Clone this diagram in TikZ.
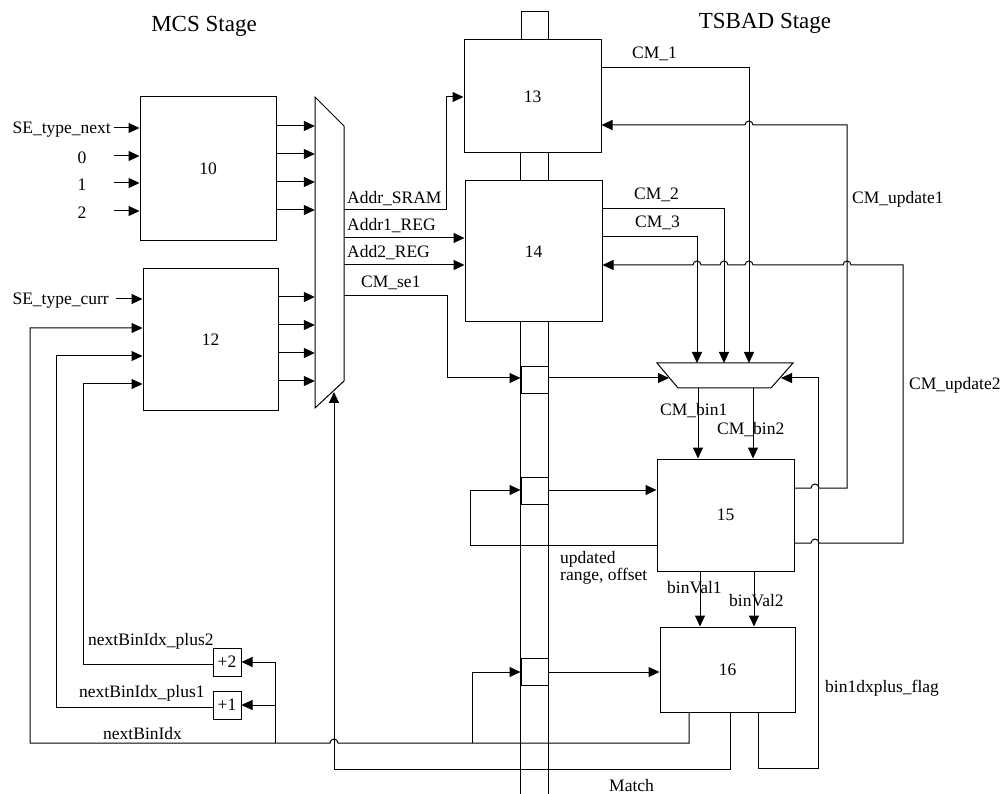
\documentclass[tikz,border=0pt]{standalone}
\usepackage{fontspec}
\setmainfont{Liberation Serif}
\usetikzlibrary{arrows.meta}
\begin{document}
\begin{tikzpicture}[x=1pt,y=-1pt,
  every node/.style={font=\fontsize{17.5}{19}\selectfont, inner sep=0pt},
  blk/.style={draw, line width=1pt},
  wire/.style={line width=1pt},
  arr/.style={wire, -{Triangle[length=11pt,width=10pt]}},
  lbl/.style={anchor=base west},
  ttl/.style={font=\fontsize{23}{26}\selectfont}
]
\useasboundingbox (0,0) rectangle (1002,794);

% titles
\node[ttl] (tmcs) at (204,26) {MCS Stage};
\node[ttl] (ttsb) at (765,23) {TSBAD Stage};

% blocks
\node[blk, minimum width=136pt, minimum height=144pt] (b10) at (208,169) {10};
\node[blk, minimum width=135pt, minimum height=142pt] (b12) at (210.5,340) {12};
\node[blk, minimum width=137pt, minimum height=113pt] (b13) at (532.5,96.5) {13};
\node[blk, minimum width=137pt, minimum height=141pt] (b14) at (533.5,251.5) {14};
\node[blk, minimum width=137pt, minimum height=112pt] (b15) at (725.5,515) {15};
\node[blk, minimum width=135pt, minimum height=85pt] (b16) at (727.5,669.5) {16};
\node[blk, minimum width=28pt, minimum height=28pt] (p2) at (227,662) {+2};
\node[blk, minimum width=28pt, minimum height=28pt] (p1) at (227,705) {+1};

% pipeline bar and registers
\node[blk, minimum width=27pt, minimum height=28pt] (rt) at (534.5,26) {};
\draw[wire] (b13.south -| rt.west) -- (b14.north -| rt.west);
\draw[wire] (b13.south -| rt.east) -- (b14.north -| rt.east);
\draw[wire] (b14.south -| rt.west) -- (rt.west |- 0,794);
\draw[wire] (b14.south -| rt.east) -- (rt.east |- 0,794);
\node[blk, minimum width=27pt, minimum height=27pt] (r1) at (534.5,380.5) {};
\node[blk, minimum width=27pt, minimum height=27pt] (r2) at (534.5,490.5) {};
\node[blk, minimum width=27pt, minimum height=27pt] (r3) at (534.5,672) {};

% multiplexers
\node[minimum width=29pt, minimum height=311pt] (muxA) at (329.5,252.5) {};
\draw[blk] (315,97) -- (344,126) -- (344,381) -- (315,408) -- cycle;
\node[minimum width=136pt, minimum height=25pt] (muxB) at (725,375.5) {};
\draw[blk] (657,363) -- (793,363) -- (771,388) -- (678,388) -- cycle;

% inputs of 10
\node[anchor=east] (lSEn) at (111,130) {SE\_type\_next};
\coordinate (i0) at (114,128);
\draw[arr] (i0) -- (b10.west |- i0);
\node (l0) at (82,158) {0};
\coordinate (i1) at (114,156);
\draw[arr] (i1) -- (b10.west |- i1);
\node (l1) at (82,185) {1};
\coordinate (i2) at (114,183);
\draw[arr] (i2) -- (b10.west |- i2);
\node (l2) at (82,213) {2};
\coordinate (i3) at (114,211);
\draw[arr] (i3) -- (b10.west |- i3);
\foreach \y in {126,154,182,210} \draw[arr] (b10.east |- 0,\y) -- (muxA.west |- 0,\y);

% inputs of 12
\node[anchor=east] (lSEc) at (109,301) {SE\_type\_curr};
\coordinate (i4) at (116,299);
\draw[arr] (i4) -- (b12.west |- i4);
\foreach \y in {297,325,353,381} \draw[arr] (b12.east |- 0,\y) -- (muxA.west |- 0,\y);

% mux outputs
\draw[arr] (muxA.east |- 0,210) -- (446,210) -- (446,97) -- (b13.west |- 0,97);
\node[lbl] at (347,204) {Addr\_SRAM};
\draw[arr] (muxA.east |- 0,238) -- (b14.west |- 0,238);
\node[lbl] at (347,231) {Addr1\_REG};
\draw[arr] (muxA.east |- 0,265) -- (b14.west |- 0,265);
\node[lbl] at (347,258) {Add2\_REG};
\draw[arr] (muxA.east |- 0,296) -- (447,296) -- (447,378) -- (r1.west |- 0,378);
\node[lbl] at (361,288) {CM\_se1};

% mux select (Match)
\draw[arr] (b16.south -| 730,0) -- (730,769) -- (334,769) -- (334,392);
\node[lbl] at (609,791) {Match};

% register 1 to lower mux
\draw[arr] (r1.east |- 0,378) -- (669,378);
\draw[arr] (b16.south -| 758,0) -- (758,768) -- (818,768) -- (818,378) -- (781,378);
\node[lbl] at (825,692) {bin1dxplus\_flag};

% CM lines
\draw[arr] (b13.east |- 0,68) -- (749,68) -- (749,363);
\node[lbl] at (632,59) {CM\_1};
\draw[arr] (b14.east |- 0,209) -- (724,209) -- (724,363);
\node[lbl] at (634,200) {CM\_2};
\draw[arr] (b14.east |- 0,237) -- (697,237) -- (697,363);
\node[lbl] at (635,228) {CM\_3};

\draw[arr] (b15.east |- 0,488) -- (811,488) arc[start angle=180,end angle=0,radius=4pt]
  -- (847,488) -- (847,125) -- (753,125) arc[start angle=0,end angle=180,radius=4pt]
  -- (b13.east |- 0,125);
\node[lbl] at (852,204) {CM\_update1};
\draw[arr] (b15.east |- 0,543) -- (811,543) arc[start angle=180,end angle=0,radius=4pt]
  -- (903,543) -- (903,265) -- (851,265) arc[start angle=0,end angle=180,radius=4pt]
  -- (753,265) arc[start angle=0,end angle=180,radius=4pt]
  -- (728,265) arc[start angle=0,end angle=180,radius=4pt]
  -- (701,265) arc[start angle=0,end angle=180,radius=4pt]
  -- (b14.east |- 0,265);
\node[lbl] at (909,390) {CM\_update2};

% lower mux outputs
\draw[arr] (698,388) -- (b15.north -| 698,0);
\draw[arr] (753,388) -- (b15.north -| 753,0);
\node[lbl] at (660,415) {CM\_bin1};
\node[lbl] at (717,435) {CM\_bin2};

% register 2 loop
\draw[arr] (b15.west |- 0,545) -- (470,545) -- (470,490) -- (r2.west |- 0,490);
\draw[arr] (r2.east |- 0,490) -- (b15.west |- 0,490);
\node[anchor=north west, align=left, font=\fontsize{17.5}{15}\selectfont] at (560,551) {updated\\range, offset};

% binVal
\draw[arr] (b15.south -| 700,0) -- (b16.north -| 700,0);
\draw[arr] (b15.south -| 754,0) -- (b16.north -| 754,0);
\node[lbl] at (667,593) {binVal1};
\node[lbl] at (729,606) {binVal2};

% nextBinIdx
\draw[arr] (b16.south -| 689,0) -- (689,743) -- (338,743) arc[start angle=0,end angle=180,radius=4pt]
  -- (30,743) -- (30,328) -- (b12.west |- 0,328);
\draw[arr] (472,743) -- (472,672) -- (r3.west |- 0,672);
\draw[arr] (r3.east |- 0,672) -- (b16.west |- 0,672);
\draw[wire] (275,743) -- (275,662);
\draw[arr] (275,662) -- (p2.east |- 0,662);
\draw[arr] (275,705) -- (p1.east |- 0,705);
\draw[arr] (p2.west |- 0,664) -- (83,664) -- (83,384) -- (b12.west |- 0,384);
\draw[arr] (p1.west |- 0,707) -- (56,707) -- (56,356) -- (b12.west |- 0,356);
\node[lbl] at (88,645) {nextBinIdx\_plus2};
\node[lbl] at (79,697) {nextBinIdx\_plus1};
\node[lbl] at (103,739) {nextBinIdx};

\end{tikzpicture}
\end{document}
